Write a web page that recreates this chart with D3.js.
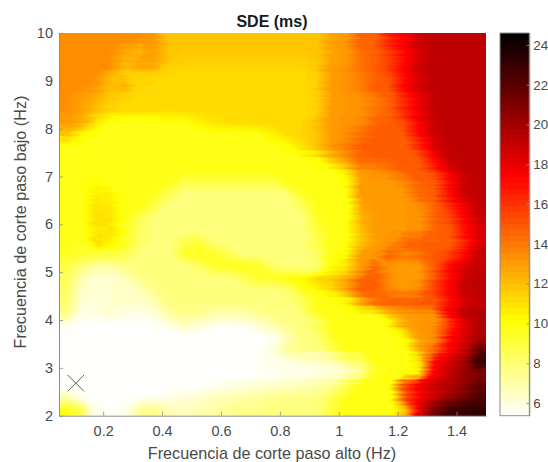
<!DOCTYPE html>
<html><head><meta charset="utf-8">
<script src="https://cdnjs.cloudflare.com/ajax/libs/d3/7.8.5/d3.min.js"></script>
<style>
html,body{margin:0;padding:0;background:#fff;overflow:hidden}
text{font-family:"Liberation Sans",Arial,sans-serif}
</style></head><body><svg id="c" width="548" height="462"></svg>
<script>
const titleText = "SDE (ms)";
const xLabelText = "Frecuencia de corte paso alto (Hz)";
const yLabelText = "Frecuencia de corte paso bajo (Hz)";
const xDomain = [0.05, 1.5];
const yDomain = [2, 10];
const xTicks = [0.2, 0.4, 0.6, 0.8, 1, 1.2, 1.4];
const yTicks = [2, 3, 4, 5, 6, 7, 8, 9, 10];
const colorTicks = [6, 8, 10, 12, 14, 16, 18, 20, 22, 24];
const colorDomain = [5.36, 10.17, 17.4, 24.6];
const colorStops = ["#ffffff", "#ffff00", "#ff0000", "#000000"];
const markerPoint = [0.107, 2.68];
// SDE (ms): rows from 10 Hz down to 2 Hz, columns from 0.05 Hz to 1.5 Hz
const sdeRows = [
[13.4,13.4,13.4,13.4,13.4,13.4,13.2,11.9,11.8,11.8,11.8,11.8,11.8,11.8,11.8,11.8,11.8,11.9,12.9,13.2,14.7,14.8,16.8,17.6,19,19.3,19.3,19.3,19.3],
[13.4,13.4,13.4,13.4,12.8,12.2,13,11.9,11.8,11.8,11.8,11.8,11.8,11.8,11.8,11.8,11.8,11.9,12.9,13.2,14.5,14.8,16,17.5,18.8,19.3,19.3,19.3,19.3],
[13.4,13.4,13.4,13.4,12.4,13,12.8,11.8,11.6,11.6,11.6,11.6,11.6,11.6,11.6,11.6,11.6,11.8,12.9,13.2,14.3,14.8,15.8,17.4,18.8,19.3,19.3,19.3,19.3],
[13.4,13.4,13.4,12.4,11.6,11.4,11.5,11.4,11.3,11.3,11.3,11.3,11.3,11.3,11.3,11.3,11.3,11.6,13,13.3,14,14.8,15.5,17.4,18.8,19.3,19.3,19.3,19.3],
[13.4,13.4,13.2,12.2,12.6,11.5,11.3,11.3,11.3,11.3,11.3,11.3,11.3,11.3,11.3,11.3,11.3,11.6,13,13.3,13.8,14.8,15,17.3,18.5,19.3,19.3,19.3,19.3],
[13.4,13,12.6,11.8,11.5,11.3,11.3,11.3,11.3,11.3,11.3,11.3,11.3,11.3,11.3,11.3,11.3,11.7,13,13.2,13.4,14,14.8,16.5,18,19.2,19.3,19.3,19.3],
[13.4,13,12,11.4,11.3,11.2,11.2,11.2,11.3,11.3,11.3,11.3,11.3,11.3,11.3,11.3,11.3,11.6,13,13.2,13.4,14.2,14.8,16.5,18,19.2,19.3,19.3,19.3],
[13,12.4,11,10,9.9,9.9,9.9,10,10,10.6,11,11.2,11.3,11.3,11.3,11.3,11.4,12,13.1,13.3,13.5,14.6,14.8,15.5,17.6,19,19.3,19.3,19.3],
[12,10.5,10,9.9,9.9,9.9,9.9,9.9,9.9,9.9,9.9,9.9,9.9,9.9,10.6,11.2,11.4,11.8,13,13.4,14.2,14.8,14.8,15,17.2,18.8,19.3,19.3,19.3],
[9.9,9.9,9.9,9.9,9.9,9.9,9.9,9.9,9.9,9.9,9.9,9.9,9.9,9.9,9.9,10.2,11,12,13.2,14,14.8,14.8,14.8,14.8,16.5,18.6,19.3,19.3,19.3],
[9.9,9.9,9.9,9.9,9.9,9.9,9.9,9.9,9.9,9.9,9.9,9.9,9.9,9.9,9.9,9.9,9.9,10.2,12,13.2,14.7,14.8,14.8,14.8,15.2,17.4,19,19.3,19.3],
[9.9,9.9,9.9,9.9,9.9,9.9,9.9,9.9,9.9,9.9,9.9,9.9,9.9,9.9,9.9,9.9,9.9,9.9,10,11,13.2,13.4,14,14.8,14.8,16,18.2,19.2,19.3],
[9.9,9.9,10.4,10,9.9,9.9,9.9,9.7,8.9,8.9,8.9,8.9,8.9,8.9,8.9,9.9,9.9,9.9,9.9,10.2,13.2,13.2,13.2,13.8,14.8,15,17.2,19,19.3],
[9.9,9.9,10.8,10.6,9.9,9.9,9.7,8.6,7.9,7.9,7.9,7.9,7.9,7.9,7.9,8,9.5,9.9,9.9,10,13,13.2,13.2,13.2,14.5,14.8,17,18.8,19.3],
[9.9,9.9,11,10.8,9.9,9.8,8.8,7.9,7.9,7.9,7.9,7.9,7.9,7.9,7.9,7.9,8.6,9.9,9.9,10,12.8,13.2,13.2,13.2,13.6,14.8,16.5,18,19.3],
[9.9,9.9,11.2,11,9.8,8.8,7.9,7.9,7.9,7.9,7.9,7.9,7.9,7.9,7.9,7.9,8,9.6,9.9,10,12.5,13.2,13.2,13.2,13.4,14.8,15.5,17.4,19],
[9.9,9.9,10.8,11,9.6,8.4,7.9,7.9,7.9,7.9,7.9,7.9,7.9,7.9,7.9,7.9,7.9,9,9.9,10,12,13.2,13.2,13.2,13.4,14.7,15,17.2,18.5],
[9.9,9.7,11.4,10.6,9.6,8.4,7.9,7.9,8.8,9.2,8.2,7.9,7.9,7.9,7.9,7.9,7.9,8.8,9.9,10,12,13,13.4,14.7,14.8,14.8,14.8,16.5,18.6],
[9.6,9.4,9.3,9.3,8.8,8,7.9,7.9,9.4,9.7,9.5,8.8,8,7.9,7.9,7.9,7.9,8.4,9.9,10.3,13,13.2,14.8,14,14.4,15,15.5,17,19],
[9,8,7.2,7.2,7.8,7.9,7.9,7.9,7.9,8.4,9.4,9.7,9.8,9.6,8.4,7.9,7.9,8.2,10.2,11,13,14.6,13.3,13,13.2,14.8,17.2,18.5,19.2],
[8.6,7,6.3,6.3,6.8,7.6,7.9,7.9,7.9,7.9,7.9,7.9,8.6,9.4,9.7,9.9,10.5,11.5,11.8,12.8,14.6,14.8,13.3,13,13.3,15.5,17.4,19,19.3],
[8.4,6.6,6.2,6.4,6.5,6.8,7.6,7.9,7.9,7.9,7.9,7.9,7.9,7.9,7.9,8.2,9.6,10,11,12.6,14.8,14.8,13.8,13.2,13.6,15.5,17.4,19,19.3],
[8.2,6.2,6.2,6.4,6.4,6.4,7,7.9,7.9,7.9,7.9,7.9,7.9,7.9,7.9,7.9,8.6,9.9,9.9,10.5,12.8,14.4,14.8,14.8,15,15.2,17.2,18.5,19.2],
[7.8,6,6.1,6.3,6,5.9,6.2,7.2,7.6,7.5,7,6.9,7,7.5,7.8,7.9,8,9.4,9.9,9.9,9.9,10,12,13,13.2,13.4,17.4,19.2,19.6],
[5.8,5.5,5.4,5.4,5.4,5.4,5.6,5.9,6.6,6.2,5.7,5.6,5.7,6.2,6.8,7.6,7.9,8.5,9.8,9.9,9.9,9.9,10.2,12.6,13.2,13.4,15.5,18,19.6],
[5.4,5.4,5.4,5.4,5.4,5.4,5.4,5.4,5.4,5.4,5.4,5.4,5.4,5.4,5.7,6.8,7.8,8,9.5,9.9,9.9,9.9,9.9,10.5,13,13.6,17.3,18.6,20],
[5.4,5.4,5.4,5.4,5.4,5.4,5.4,5.4,5.4,5.4,5.4,5.4,5.4,5.6,6.1,7.4,7.8,7.9,8.8,9.9,9.9,9.9,9.9,10,12.8,14.8,17.4,19,22],
[5.4,5.4,5.4,5.4,5.4,5.4,5.4,5.4,5.4,5.4,5.4,5.4,5.5,5.6,5.8,6,6.2,6.4,6.7,7.7,8.4,9.9,9.9,10,11,17.5,18.8,20,23.5],
[5.4,5.4,5.4,5.4,5.4,5.4,5.4,5.4,5.4,5.4,5.4,5.4,5.4,5.6,5.7,5.8,5.8,5.9,6,6.3,7.2,9.5,9.9,9.9,10.6,17.4,19,20.5,21],
[5.4,5.4,5.4,5.4,5.4,5.4,5.4,5.4,5.4,5.4,5.7,6,6.1,6.3,6.4,6.6,6.9,7.1,7.5,8.6,9.8,9.9,10,15,17.5,18.8,19.5,20.5,22],
[7.2,5.9,5.5,5.5,5.5,5.7,5.7,6,6.2,6.4,6.7,6.9,7.1,7.3,7.6,7.7,7.7,7.8,8.6,9.7,9.9,9.9,10,15.5,17.8,19.2,20.5,21.5,22.5],
[9.9,8.8,5.9,5.6,5.9,7.5,7.7,6.9,6.7,6.9,7.2,7.5,7.7,7.8,7.9,7.9,7.9,8,9.2,9.9,9.9,9.9,9.9,12,18.5,21.5,23,23.2,23.5]
];
const streakBoxes = [[300,33,186,383],[59,33,101,85],[59,118,36,30],[85,170,45,85]];

const nRows = sdeRows.length, nCols = sdeRows[0].length;
sdeRows.forEach((r,i)=>{ if(r.length!==nCols) throw new Error("row "+i+" has "+r.length); });

const plot = {left:59, right:486, top:33, bottom:415.7};
const bar = {left:500, right:529.3};
const x = d3.scaleLinear().domain(xDomain).range([plot.left, plot.right]);
const y = d3.scaleLinear().domain(yDomain).range([plot.bottom, plot.top]);
const cy = d3.scaleLinear().domain([colorDomain[0], colorDomain[3]]).range([plot.bottom, plot.top]);
const color = d3.scaleLinear().domain(colorDomain).range(colorStops).clamp(true);

const svg = d3.select("#c");
const defs = svg.append("defs");
defs.append("clipPath").attr("id","pcAll").append("rect")
  .attr("x",plot.left).attr("y",plot.top).attr("width",plot.right-plot.left).attr("height",plot.bottom-plot.top);
defs.append("clipPath").attr("id","pcStreak").selectAll("rect").data(streakBoxes).join("rect")
  .attr("x",d=>d[0]).attr("y",d=>d[1]).attr("width",d=>d[2]).attr("height",d=>d[3]);
defs.append("filter").attr("id","soft").attr("filterUnits","userSpaceOnUse")
  .attr("x",plot.left-10).attr("y",plot.top-10).attr("width",plot.right-plot.left+20).attr("height",plot.bottom-plot.top+20)
  .append("feGaussianBlur").attr("stdDeviation",0.9);
const streak = defs.append("filter").attr("id","streak").attr("filterUnits","userSpaceOnUse")
  .attr("x",plot.left-10).attr("y",plot.top-10).attr("width",plot.right-plot.left+20).attr("height",plot.bottom-plot.top+20)
  .attr("color-interpolation-filters","sRGB");
streak.append("feTurbulence").attr("type","fractalNoise").attr("baseFrequency","0.004 0.33").attr("numOctaves",2).attr("seed",4).attr("result","n");
streak.append("feDisplacementMap").attr("in","SourceGraphic").attr("in2","n").attr("scale",14)
  .attr("xChannelSelector","R").attr("yChannelSelector","A").attr("result","d");
streak.append("feGaussianBlur").attr("in","d").attr("stdDeviation","0.7 0.6");

const thresholds = d3.range(5.4, 24.6, 0.2);
const contours = d3.contours().size([nCols,nRows]).thresholds(thresholds)(d3.merge(sdeRows));
const edge = 12;
const grid = d3.geoTransform({point(cx,cyy){
  let px = x(xDomain[0]+cx/nCols*(xDomain[1]-xDomain[0]));
  let py = y(yDomain[1]-cyy/nRows*(yDomain[1]-yDomain[0]));
  if(cx<=0) px-=edge; if(cx>=nCols) px+=edge;
  if(cyy<=0) py-=edge; if(cyy>=nRows) py+=edge;
  this.stream.point(px,py);
}});
const path = d3.geoPath(grid);
function heat(clip,filter){
  svg.append("g").attr("clip-path",`url(#${clip})`).append("g").attr("filter",`url(#${filter})`)
    .selectAll("path").data(contours).join("path")
    .attr("d",path).attr("fill",d=>color(d.value));
}
heat("pcAll","soft");
heat("pcStreak","streak");

const sym = d3.symbol(d3.symbolX, 176);
svg.append("path").attr("d",sym())
  .attr("transform",`translate(${x(markerPoint[0])},${y(markerPoint[1])})`)
  .attr("fill","none").attr("stroke","#3a3a3a").attr("stroke-width",0.8);

const tickColor = "#4a4a4a", axisColor="#8c8c8c", fs=14.5;
function styleAxis(g){
  g.select(".domain").attr("stroke",axisColor).attr("stroke-width",1);
  g.selectAll(".tick line").attr("stroke",axisColor).attr("stroke-width",0.8);
  g.selectAll("text").attr("fill",tickColor).attr("font-size",fs).attr("font-family",'"Liberation Sans",Arial,sans-serif');
}
svg.append("g").attr("transform",`translate(0,${plot.bottom})`)
  .call(d3.axisBottom(x).tickValues(xTicks).tickFormat(d3.format("~g")).tickSizeInner(-4).tickSizeOuter(0).tickPadding(10))
  .call(styleAxis);
svg.append("g").attr("transform",`translate(${plot.left},0)`)
  .call(d3.axisLeft(y).tickValues(yTicks).tickFormat(d3.format("d")).tickSizeInner(-4).tickSizeOuter(0).tickPadding(6))
  .call(styleAxis);

const barStep = (colorDomain[3]-colorDomain[0])/64;
const barLevels = d3.range(colorDomain[0], colorDomain[3]-barStep/2, barStep);
svg.append("g").selectAll("rect").data(barLevels).join("rect")
  .attr("x",bar.left).attr("width",bar.right-bar.left)
  .attr("y",d=>cy(d+barStep)).attr("height",d=>cy(d)-cy(d+barStep)+0.5)
  .attr("fill",d=>color(d+barStep/2));
svg.append("rect").attr("x",bar.left).attr("y",plot.top).attr("width",bar.right-bar.left).attr("height",plot.bottom-plot.top)
  .attr("fill","none").attr("stroke",axisColor).attr("stroke-width",1);
svg.append("g").attr("transform",`translate(${bar.right},0)`)
  .call(d3.axisRight(cy).tickValues(colorTicks).tickFormat(d3.format("d")).tickSizeInner(-3).tickSizeOuter(0).tickPadding(4))
  .call(styleAxis)
  .call(g=>g.selectAll("text").attr("font-size",13.4));

svg.append("text").attr("x",272).attr("y",27).attr("text-anchor","middle")
  .attr("font-weight","bold").attr("font-size",16).attr("fill","#1a1a1a").text(titleText);
svg.append("text").attr("x",272).attr("y",459).attr("text-anchor","middle")
  .attr("font-size",16.2).attr("fill",tickColor).text(xLabelText);
svg.append("text").attr("transform",`translate(26,222) rotate(-90)`).attr("text-anchor","middle")
  .attr("font-size",16.2).attr("fill",tickColor).text(yLabelText);
</script></body></html>
